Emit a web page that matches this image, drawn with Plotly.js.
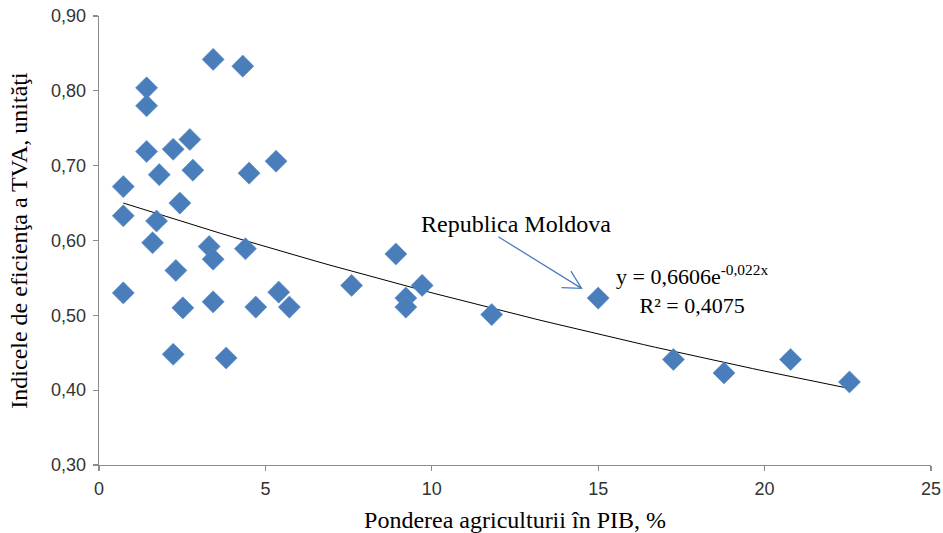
<!DOCTYPE html>
<html>
<head>
<meta charset="utf-8">
<script src="https://cdn.plot.ly/plotly-3.0.1.min.js"></script>
<style>html,body{margin:0;padding:0;background:#fff;}#chart{width:943px;height:533px;}</style>
</head>
<body>
<div id="chart"></div>
<script>
// Ponderea agriculturii în PIB, %
const agricultureShare = [3.43, 4.32, 1.43, 1.43, 2.73, 2.23, 1.43, 5.32, 1.81, 2.82, 4.51, 0.73, 2.43, 0.73, 1.73, 1.61, 3.31, 3.43, 4.40, 2.31, 0.73, 5.40, 5.72, 2.52, 3.43, 4.71, 2.23, 3.82, 7.59, 8.92, 9.71, 9.22, 9.22, 11.80, 15.00, 17.26, 18.78, 20.78, 22.55];
// Indicele de eficienţa a TVA, unităţi
const vatEfficiency = [0.842, 0.833, 0.804, 0.780, 0.735, 0.722, 0.719, 0.706, 0.688, 0.694, 0.690, 0.672, 0.650, 0.633, 0.626, 0.597, 0.592, 0.575, 0.589, 0.560, 0.530, 0.531, 0.511, 0.510, 0.518, 0.511, 0.448, 0.443, 0.540, 0.582, 0.540, 0.523, 0.511, 0.501, 0.523, 0.441, 0.423, 0.441, 0.411];
// Exponential trendline coefficients, as printed on the chart
const trendA = 0.6606;
const trendB = -0.022;
const xTickVals = [0, 5, 10, 15, 20, 25];
const yTickVals = [0.30, 0.40, 0.50, 0.60, 0.70, 0.80, 0.90];

const xMin = Math.min(...agricultureShare), xMax = Math.max(...agricultureShare);
const trendX = [], trendY = [];
for (let i = 0; i <= 60; i++) {
  const x = xMin + (xMax - xMin) * i / 60;
  trendX.push(x);
  trendY.push(trendA * Math.exp(trendB * x));
}

const serif = 'Liberation Serif, Times New Roman, serif';
const sans = 'Liberation Sans, Arial, sans-serif';

const data = [
  {
    x: trendX, y: trendY, type: 'scatter', mode: 'lines',
    line: {color: '#000000', width: 1}, hoverinfo: 'skip', showlegend: false
  },
  {
    x: agricultureShare, y: vatEfficiency, type: 'scatter', mode: 'markers',
    marker: {symbol: 'diamond', size: 17, color: '#4a7ebb', line: {color: '#5b8dcc', width: 0.6}},
    showlegend: false
  }
];

const layout = {
  width: 943, height: 533,
  margin: {l: 99, r: 12, t: 16, b: 68},
  paper_bgcolor: '#ffffff', plot_bgcolor: '#ffffff',
  separators: ', ',
  showlegend: false,
  xaxis: {
    range: [0, 25], tickvals: xTickVals, ticktext: xTickVals.map(String),
    showgrid: false, zeroline: false, showline: true, linecolor: '#8c8c8c', linewidth: 1.3,
    ticks: 'outside', ticklen: 5, tickcolor: '#8c8c8c', tickwidth: 1.3,
    ticklabelstandoff: 2,
    tickfont: {family: sans, size: 18, color: '#333333'},
    title: {text: 'Ponderea agriculturii în PIB, %', font: {family: serif, size: 24, color: '#000000'}, standoff: 14}
  },
  yaxis: {
    range: [0.30, 0.90], tickvals: yTickVals, tickformat: '.2f',
    showgrid: false, zeroline: false, showline: true, linecolor: '#8c8c8c', linewidth: 1.3,
    ticks: 'outside', ticklen: 5, tickcolor: '#8c8c8c', tickwidth: 1.3,
    ticklabelstandoff: 3,
    tickfont: {family: sans, size: 18, color: '#333333'},
    title: {text: 'Indicele de eficienţa a TVA, unităţi', font: {family: serif, size: 24, color: '#000000'}, standoff: 16}
  },
  annotations: [
    {
      xref: 'x', yref: 'y', x: 12.53, y: 0.622, showarrow: false,
      text: 'Republica Moldova', font: {family: serif, size: 24, color: '#000000'}
    },
    {
      xref: 'x', yref: 'y', x: 17.82, y: 0.535, showarrow: false, align: 'center',
      text: 'y = 0,6606e<sup>-0,022x</sup><br>R² = 0,4075', font: {family: serif, size: 22, color: '#000000'}
    }
  ],
  shapes: [
    {
      type: 'path', xref: 'x', yref: 'y',
      path: 'M 12.00 0.605 L 14.50 0.536 M 14.18 0.559 L 14.50 0.536 L 13.90 0.537',
      line: {color: '#4a7ebb', width: 1.3}
    }
  ]
};

Plotly.newPlot('chart', data, layout, {displayModeBar: false, staticPlot: true});
</script>
</body>
</html>
